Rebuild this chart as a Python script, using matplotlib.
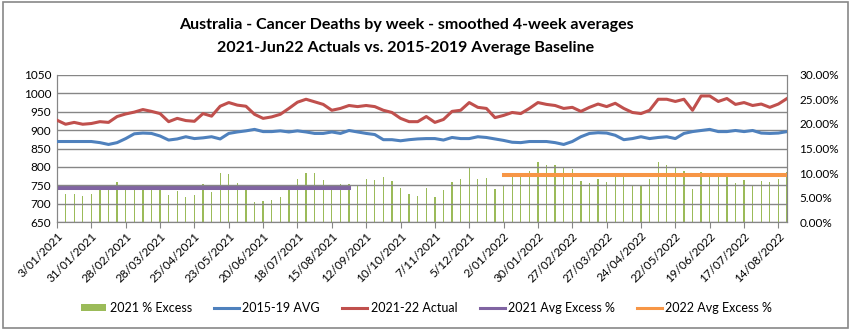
import matplotlib
matplotlib.use("Agg")
import matplotlib.pyplot as plt
from matplotlib.patches import Rectangle, Patch
from matplotlib.lines import Line2D
from matplotlib.ticker import PercentFormatter, MultipleLocator
import pandas as pd

# weekly points, week ending Sunday
weeks = pd.date_range("2021-01-03", periods=86, freq="7D")

# 2015-19 average baseline, smoothed 4-week
baseline = [
    869, 869, 869, 869, 869, 866, 861, 866, 877, 890,
    892, 891, 884, 873, 876, 882, 877, 879, 882, 876,
    891, 895, 898, 902, 896, 896, 898, 895, 898, 895,
    891, 891, 895, 891, 899, 895, 891, 888, 874, 874,
    871, 874, 876, 877, 877, 873, 880, 877, 877, 882,
    880, 876, 872, 867, 866, 869, 869, 869, 866, 861,
    869, 882, 891, 893, 892, 886, 874, 877, 882, 877,
    880, 882, 877, 891, 896, 899, 902, 896, 896, 899,
    896, 899, 892, 891, 892, 896,
]

# 2021-22 actuals, smoothed 4-week
actual = [
    927, 916, 921, 916, 918, 923, 921, 937, 944, 949,
    956, 951, 945, 923, 932, 926, 924, 945, 938, 965,
    975, 968, 965, 943, 932, 936, 943, 959, 976, 984,
    977, 970, 954, 959, 967, 964, 967, 964, 954, 948,
    932, 923, 923, 937, 921, 929, 951, 954, 975, 962,
    959, 934, 940, 948, 945, 959, 975, 970, 967, 959,
    962, 951, 962, 971, 964, 973, 959, 948, 945, 954,
    984, 984, 978, 984, 954, 993, 993, 978, 986, 970,
    975, 967, 971, 962, 971, 986,
]

# % excess over baseline
excess = [
    7.0, 5.8, 5.8, 5.4, 5.8, 6.5, 6.5, 8.2, 7.4, 6.5,
    6.5, 6.5, 6.5, 5.5, 6.3, 5.1, 5.5, 7.8, 6.1, 9.9,
    9.7, 8.0, 6.5, 4.1, 4.3, 4.5, 5.2, 7.4, 8.8, 9.9,
    10.1, 8.6, 6.5, 7.8, 7.8, 7.4, 8.8, 8.6, 9.2, 8.4,
    6.9, 5.7, 5.3, 6.9, 5.1, 6.5, 8.2, 8.8, 11.1, 8.8,
    9.0, 6.7, 7.4, 9.4, 9.4, 10.5, 12.2, 11.7, 11.7, 11.3,
    10.9, 8.4, 8.0, 8.8, 8.2, 10.1, 9.3, 7.5, 7.5, 8.8,
    12.2, 11.6, 11.3, 10.5, 6.7, 10.3, 10.1, 9.3, 10.1, 8.0,
    8.6, 7.6, 8.4, 8.2, 8.8, 10.3,
]

avg_2021 = 6.9
avg_2021_weeks = 35      # drawn from first week
avg_2022 = 9.6
avg_2022_start = 52      # 2/01/2022

GREEN = "#9BBB59"
BLUE = "#4F81BD"
RED = "#C0504D"
PURPLE = "#8064A2"
ORANGE = "#F79646"
GRID = "#868686"

plt.rcParams["font.family"] = ["Lato", "DejaVu Sans"]
plt.rcParams["font.size"] = 8

fig = plt.figure(figsize=(8.52, 3.33), dpi=100)
fig.patches.append(Rectangle((0.003, 0.015), 0.992, 0.978, transform=fig.transFigure,
                             fill=False, edgecolor="#888888", lw=1.2))

ax = fig.add_axes([0.0669, 0.3333, 0.8568, 0.4415])
ax2 = ax.twinx()

x = list(range(len(weeks)))

ax.plot(x, baseline, color=BLUE, lw=2.2, zorder=3, solid_joinstyle="round")
ax.plot(x, actual, color=RED, lw=2.2, zorder=3, solid_joinstyle="round")

ax2.bar(x, excess, width=0.15, color=GREEN, zorder=2)
ax2.plot(x[:avg_2021_weeks], [avg_2021] * avg_2021_weeks, color=PURPLE, lw=2.9, zorder=3)
n22 = len(x) - avg_2022_start
ax2.plot(x[avg_2022_start:], [avg_2022] * n22, color=ORANGE, lw=2.9, zorder=3)

# put primary (lines) above the secondary axes
ax.set_zorder(ax2.get_zorder() + 1)
ax.patch.set_visible(False)

ax.set_xlim(0, len(x) - 1)
ax.set_ylim(650, 1050)
ax.yaxis.set_major_locator(MultipleLocator(50))
ax.grid(axis="y", color=GRID, lw=1.0)
ax.set_axisbelow(True)

ax2.set_ylim(0, 30)
ax2.yaxis.set_major_locator(MultipleLocator(5))
ax2.yaxis.set_major_formatter(PercentFormatter(xmax=100, decimals=2))

tick_pos = x[::4]
tick_lbl = [f"{d.day}/{d.month:02d}/{d.year}" for d in weeks[::4]]
ax.set_xticks(tick_pos)
ax.set_xticklabels(tick_lbl, rotation=45, ha="right", rotation_mode="anchor")

for a in (ax, ax2):
    for s in a.spines.values():
        s.set_color(GRID)
    a.spines["top"].set_visible(False)
ax.tick_params(axis="x", length=4, color=GRID, labelsize=8.5, pad=2)
ax.tick_params(axis="y", length=0, labelsize=8.5, pad=4)
ax2.tick_params(axis="y", length=0, labelsize=8.5, pad=9)

title_x = 0.4765
fig.text(title_x, 0.925, "Australia - Cancer Deaths by week - smoothed 4-week averages",
         ha="center", va="center", fontsize=11.5, fontweight="bold")
fig.text(title_x, 0.857, "2021-Jun22 Actuals vs. 2015-2019 Average Baseline",
         ha="center", va="center", fontsize=11.5, fontweight="bold")

handles = [
    Patch(facecolor=GREEN, edgecolor="none"),
    Line2D([], [], color=BLUE, lw=2.2),
    Line2D([], [], color=RED, lw=2.2),
    Line2D([], [], color=PURPLE, lw=2.2),
    Line2D([], [], color=ORANGE, lw=2.2),
]
labels = ["2021 % Excess", "2015-19 AVG", "2021-22 Actual",
          "2021 Avg Excess %", "2022 Avg Excess %"]
fig.legend(handles, labels, loc="center", bbox_to_anchor=(0.501, 0.075), ncol=5,
           frameon=False, fontsize=9, handlelength=2.0, handleheight=0.55,
           handletextpad=0.25, columnspacing=1.8)

fig.savefig("out.png", dpi=100)
